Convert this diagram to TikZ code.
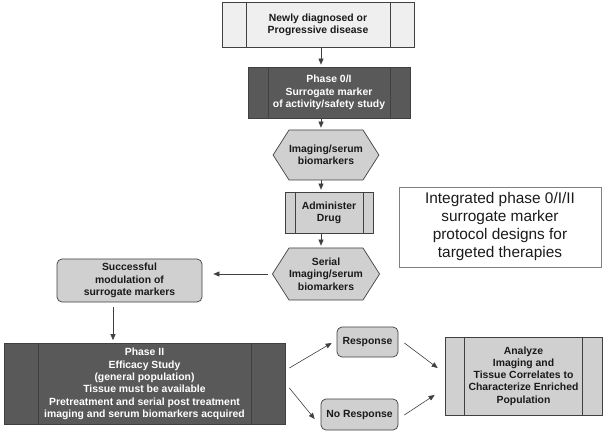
\documentclass[tikz,border=0pt]{standalone}
\usepackage{fontspec}
\setmainfont{Liberation Sans}
\usepackage{tikz}
\usetikzlibrary{positioning, calc}
\usetikzlibrary{arrows.meta}
\usetikzlibrary{shapes,arrows}
\definecolor{boxline}{HTML}{404040}
\definecolor{lightfill}{HTML}{EFEFEF}
\definecolor{midfill}{HTML}{D0D0D0}
\definecolor{darkfill}{HTML}{595959}
\definecolor{textc}{HTML}{1A1A1A}
\definecolor{noteline}{HTML}{808080}

\begin{document}
\begin{tikzpicture}[x=1bp,y=-1bp,draw=boxline,>={Triangle[length=6bp,width=5bp]}]
	\def \fsbox{\fontsize{10.4bp}{12.3bp}\selectfont\bfseries}
	\def \fsnote{\fontsize{15.4bp}{18bp}\selectfont}
	\useasboundingbox (0,0) rectangle (606,435);
	\tikzstyle{b-node}=[rectangle,draw=boxline,line width=0.7bp,align=center,font=\fsbox,text=textc,inner sep=0pt]
	\tikzset{pp-node/.style={b-node,path picture={\draw[boxline,line width=0.7bp]
		([xshift=#1]path picture bounding box.north west) -- ([xshift=#1]path picture bounding box.south west)
		([xshift=-#1]path picture bounding box.north east) -- ([xshift=-#1]path picture bounding box.south east);}}}
	\tikzstyle{dk-node}=[fill=darkfill,text=white]
	\tikzstyle{hx-node}=[b-node,signal,signal to=west and east,signal pointer angle=115,fill=midfill,minimum width=104bp,minimum height=50bp]
	\tikzstyle{rb-node}=[b-node,rounded corners=5bp,fill=midfill]
	\tikzstyle{tx-node}=[rectangle,draw=noteline,line width=0.8bp,align=center,font=\fsnote,text=textc,inner sep=0pt]
	\tikzstyle{a-line}=[->,color=boxline,line width=0.6bp]

	% main column
	\node[pp-node=24bp,fill=lightfill,minimum width=192bp,minimum height=45bp] (st0) at (318,24.5) {Newly diagnosed or\\Progressive disease};
	\node[pp-node=20bp,dk-node,minimum width=162bp,minimum height=51bp] (st1) at (329,92.5) {Phase 0/I\\Surrogate marker\\of activity/safety study};
	\node[hx-node] (hx0) at (326,155) {Imaging/serum\\biomarkers};
	\node[pp-node=10bp,fill=midfill,minimum width=88bp,minimum height=41bp] (st2) at (329,212.5) {Administer\\Drug};
	\node[hx-node,minimum height=52bp] (hx1) at (326,274) {Serial\\Imaging/serum\\biomarkers};

	% left branch
	\node[rb-node,minimum width=145bp,minimum height=43bp] (rb0) at (129.5,280.5) {Successful\\modulation of\\surrogate markers};
	\node[pp-node=34bp,dk-node,minimum width=281bp,minimum height=81bp] (st3) at (144.5,384) {Phase II\\Efficacy Study\\(general population)\\Tissue must be available\\Pretreatment and serial post treatment\\imaging and serum biomarkers acquired};

	% outcome
	\node[rb-node,minimum width=61bp,minimum height=30bp] (rs0) at (367.5,342) {Response};
	\node[rb-node,minimum width=77bp,minimum height=31bp] (rs1) at (359.5,414.5) {No Response};
	\node[pp-node=19.5bp,fill=midfill,minimum width=157bp,minimum height=78bp] (st4) at (523.5,376) {Analyze\\Imaging and\\Tissue Correlates to\\Characterize Enriched\\Population};

	% note
	\node[tx-node,minimum width=202bp,minimum height=80bp] (tx0) at (500,227) {Integrated phase 0/I/II\\surrogate marker\\protocol designs for\\targeted therapies};

	\coordinate (ax0) at (321,0);
	\coordinate (ax1) at (113,0);

	\path[a-line,shorten >=2bp]
		(st0.south -| ax0) edge (st1.north -| ax0)
		(st1.south -| ax0) edge (hx0.north -| ax0)
		(hx0.south -| ax0) edge (st2.north -| ax0)
		(st2.south -| ax0) edge (hx1.north -| ax0);
	\path[a-line]
		([xshift=-4bp]hx1.west) edge[shorten >=11bp] (rb0.east |- hx1.west)
		([yshift=-5bp]rb0.south -| ax1) edge[shorten >=3bp] (st3.north -| ax1)
		([shift={(4,-16)}]st3.east) edge ([shift={(-5,1)}]rs0.west)
		([shift={(4,4)}]st3.east) edge ([shift={(-6,4.5)}]rs1.west)
		([shift={(6,1)}]rs0.east) edge ([shift={(-7,-8)}]st4.west)
		([shift={(6,0.5)}]rs1.east) edge ([shift={(-10,19)}]st4.west);
\end{tikzpicture}
\end{document}
